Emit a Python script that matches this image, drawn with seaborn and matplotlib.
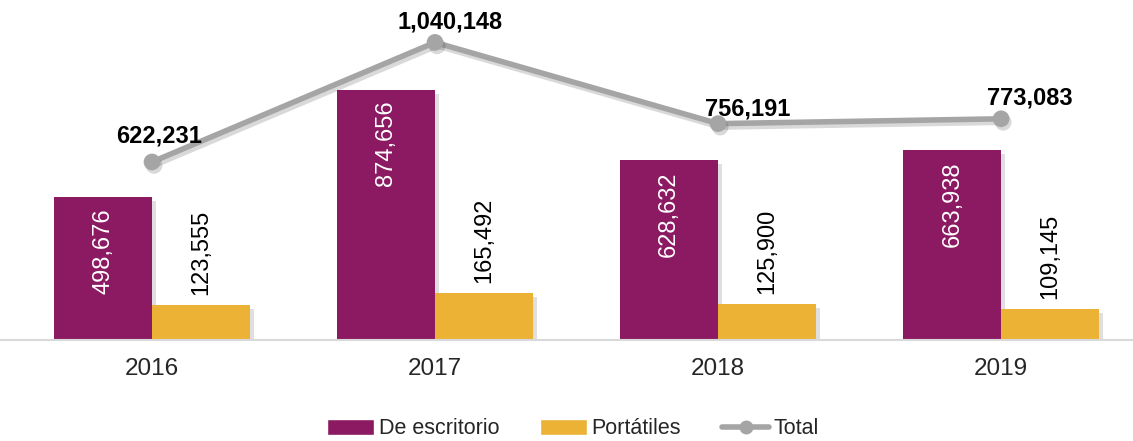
import pandas as pd
import matplotlib
matplotlib.use('Agg')
import matplotlib.pyplot as plt
import matplotlib.patheffects as pe
from matplotlib.patches import Patch
from matplotlib.lines import Line2D
import seaborn as sns

# Datos
years = ['2016', '2017', '2018', '2019']
escritorio = [498676, 874656, 628632, 663938]
portatiles = [123555, 165492, 125900, 109145]
total = [622231, 1040148, 756191, 773083]

# desplazamiento (px) de las etiquetas del total
total_offsets = [(7, 26), (15, 20), (30, 15), (29, 21)]

purple = '#8B1A62'
gold = '#EBB236'
gray = '#A5A5A5'

df = pd.DataFrame({
    'Año': years * 2,
    'Valor': escritorio + portatiles,
    'Tipo': ['De escritorio'] * 4 + ['Portátiles'] * 4,
})

sns.set_style('white')
plt.rcParams['font.family'] = ['Liberation Sans', 'DejaVu Sans']

fig = plt.figure(figsize=(11.33, 4.41), dpi=100)
ax = fig.add_axes([0, 101 / 441, 1, 340 / 441])

shadow = [pe.SimplePatchShadow(offset=(3, -3), shadow_rgbFace='gray', alpha=0.25), pe.Normal()]

sns.barplot(data=df, x='Año', y='Valor', hue='Tipo', palette=[purple, gold],
            width=0.69, ax=ax, legend=False, saturation=1)
for bar in ax.patches:
    bar.set_path_effects(shadow)
    bar.set_edgecolor('none')

sns.pointplot(x=years, y=total, color=gray, markers='o', errorbar=None,
              linewidth=4, markersize=9, ax=ax)
for ln in ax.lines:
    ln.set_path_effects([pe.SimpleLineShadow(offset=(1.5, -2.5), alpha=0.15), pe.Normal()])

# Etiquetas de barras
n = len(years)
for i, bar in enumerate(ax.patches[:2 * n]):
    cx = bar.get_x() + bar.get_width() / 2
    h = bar.get_height()
    if i < n:
        ax.annotate(f'{escritorio[i]:,}', (cx, h), xytext=(0, -11), textcoords='offset pixels',
                    rotation=90, ha='center', va='top', color='white', fontsize=17)
    else:
        ax.annotate(f'{portatiles[i - n]:,}', (cx, h), xytext=(0, 10), textcoords='offset pixels',
                    rotation=90, ha='center', va='bottom', color='black', fontsize=17)

# Etiquetas del total
for i, t in enumerate(total):
    ax.annotate(f'{t:,}', (i, t), xytext=total_offsets[i], textcoords='offset pixels',
                ha='center', va='center', fontsize=17, fontweight='bold', color='black')

ax.set_xlim(-0.537, 3.466)
ax.set_ylim(0, 1188300)
ax.set_xlabel('')
ax.set_ylabel('')
ax.set_yticks([])
for s in ['top', 'left', 'right']:
    ax.spines[s].set_visible(False)
ax.spines['bottom'].set_color('#D9D9D9')
ax.spines['bottom'].set_linewidth(1.5)
ax.tick_params(axis='x', length=0, pad=13, labelsize=17.5)

handles = [
    Patch(facecolor=purple, label='De escritorio'),
    Patch(facecolor=gold, label='Portátiles'),
    Line2D([0], [0], color=gray, lw=4, marker='o', markersize=9, label='Total'),
]
fig.legend(handles=handles, loc='center', bbox_to_anchor=(573 / 1133, 12 / 441), ncol=3,
           frameon=False, fontsize=15.5, handlelength=2.2, handletextpad=0.2,
           columnspacing=1.9, borderpad=0)

fig.savefig('out.png', dpi=100)
